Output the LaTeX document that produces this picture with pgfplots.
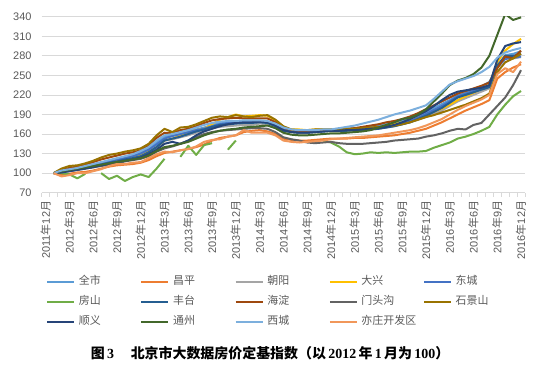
\documentclass[border=0pt]{standalone}
\usepackage{fontspec}
\setmainfont{Liberation Sans}
\newfontfamily\cjk{Noto Sans CJK SC}
\newfontfamily\capserif{Liberation Serif}
\usepackage{pgfplots}
\pgfplotsset{compat=1.18}
\usepackage{pgfplotstable}
\definecolor{cqs}{HTML}{5B9BD5}
\definecolor{ccp}{HTML}{ED7D31}
\definecolor{ccy}{HTML}{A5A5A5}
\definecolor{cdx}{HTML}{FFC000}
\definecolor{cdc}{HTML}{4472C4}
\definecolor{cfs}{HTML}{70AD47}
\definecolor{cft}{HTML}{255E91}
\definecolor{chd}{HTML}{9E480E}
\definecolor{cmtg}{HTML}{636363}
\definecolor{csjs}{HTML}{997300}
\definecolor{csy}{HTML}{264478}
\definecolor{ctz}{HTML}{43682B}
\definecolor{cxc}{HTML}{7CAFDD}
\definecolor{cyz}{HTML}{F1975A}
\definecolor{gridc}{HTML}{D9D9D9}
\definecolor{labc}{HTML}{595959}
\newcommand\ym[2]{#1{\cjk 年}#2{\cjk 月}}
\newcommand\legtxt[1]{\makebox[58bp][l]{\cjk #1}}
\pgfplotstableread{
i qs cp cy dx dc fs ft hd mtg sjs sy tz xc yz
1 100 100 100 100 100 100 100 100 100 100 100 100 100 100
2 103 97 102 103 102 100 102 105 102 107 101 103 104 95
3 105 99 104 105 104 98 104 108 103 111 103 105 106 97
4 107 101 106 107 106 92 106 110 105 112 105 107 108 100
5 110 102 108 109 109 99 108 113 107 115 107 109 111 100
6 113 104 111 112 112 nan 111 117 109 119 109 111 114 103
7 116 107 114 115 115 100 113 121 111 124 112 113 117 106
8 119 110 117 117 118 91 116 124 113 128 114 115 120 111
9 122 112 119 120 121 96 118 127 115 130 117 117 123 114
10 125 113 121 122 123 88 121 130 118 133 119 119 126 114
11 128 114 124 125 126 94 123 132 120 135 121 121 129 116
12 132 116 127 128 130 98 126 135 122 138 124 123 134 117
13 138 120 132 133 136 94 132 142 126 145 129 127 140 123
14 147 126 140 140 144 107 140 154 133 158 136 134 150 129
15 156 131 150 150 153 122 150 162 138 168 145 140 158 133
16 158 133 152 153 157 nan 153 161 141 163 148 142 160 132
17 161 135 155 158 160 125 156 166 145 170 145 145 163 135
18 164 137 158 163 163 142 160 168 150 171 150 148 166 137
19 167 140 162 166 166 128 164 172 155 175 158 153 170 141
20 170 144 165 168 168 143 167 177 160 180 164 158 174 148
21 174 150 169 175 172 146 171 181 163 185 168 162 177 151
22 177 154 171 182 175 nan 174 183 165 187 172 165 179 152
23 178 156 172 186 177 136 175 184 166 186 175 167 180 156
24 179 158 173 190 178 150 176 185 167 189 177 168 180 158
25 180 163 174 187 179 nan 177 184 168 187 178 170 181 166
26 180 165 174 188 179 nan 177 184 169 186 178 171 181 162
27 180 166 176 189 179 nan 178 184 169 188 179 172 181 162
28 179 164 175 188 178 nan 177 184 168 189 178 173 180 162
29 175 160 171 181 174 nan 172 178 163 182 173 169 176 158
30 168 153 165 171 167 nan 165 170 155 172 166 162 170 150
31 165 151 163 167 164 nan 163 166 152 167 163 159 167 148
32 164 150 162 167 163 nan 162 165 150 166 162 158 166 147
33 164 150 162 166 163 nan 162 165 147 166 162 158 166 148
34 165 151 163 167 164 nan 163 166 146 167 163 159 166 149
35 165 152 164 167 164 150 164 166 147 167 164 160 167 150
36 166 153 165 167 165 147 165 166 148 167 165 161 167 152
37 167 153 165 167 165 141 165 167 146 167 165 161 169 153
38 168 153 165 167 166 132 165 168 145 168 166 162 171 154
39 169 154 166 168 166 129 166 169 145 168 166 163 173 155
40 170 154 166 168 167 130 166 171 145 169 167 164 176 156
41 171 155 167 169 168 132 167 173 146 170 168 166 179 157
42 173 156 168 170 169 131 168 175 147 171 169 170 182 158
43 175 157 170 172 171 132 170 178 148 172 171 174 186 160
44 177 158 172 175 173 131 172 180 150 173 174 178 190 162
45 180 160 175 178 176 132 175 183 151 175 178 183 193 164
46 183 162 178 181 180 133 178 187 152 178 183 185 196 166
47 188 165 182 185 185 133 183 192 153 182 189 190 200 169
48 194 168 186 189 191 134 188 198 156 186 195 198 204 173
49 200 173 191 194 197 139 194 204 158 189 203 210 214 178
50 206 178 196 199 203 143 200 210 161 193 212 222 225 183
51 212 184 203 205 210 147 208 216 165 197 220 235 236 190
52 219 190 210 212 218 153 216 222 168 201 225 242 241 197
53 223 196 215 218 222 156 220 226 167 205 227 246 245 203
54 228 201 220 223 226 160 224 230 174 210 229 252 249 208
55 233 206 225 229 230 165 228 234 177 215 231 262 255 213
56 240 212 230 236 234 171 232 239 190 222 235 280 263 220
57 262 245 262 270 262 190 265 261 203 255 274 312 277 252
58 281 255 277 288 275 205 280 279 216 270 295 344 285 261
59 283 262 276 298 277 218 280 276 235 276 299 335 289 255
60 287 267 278 306 279 226 283 288 258 283 301 339 292 271
}\data
\begin{document}
\begin{tikzpicture}
\path[use as bounding box] (-41.7bp,-185.3bp) rectangle (512.3bp,192.7bp);
\begin{axis}[
  scale only axis, width=483.3bp, height=176bp,
  xmin=-0.5, xmax=60.5, ymin=70, ymax=340,
  ytick={70,100,...,340},
  xtick={0,3,...,60},
  xticklabels={\ym{2011}{12},\ym{2012}{3},\ym{2012}{6},\ym{2012}{9},\ym{2012}{12},
    \ym{2013}{3},\ym{2013}{6},\ym{2013}{9},\ym{2013}{12},
    \ym{2014}{3},\ym{2014}{6},\ym{2014}{9},\ym{2014}{12},
    \ym{2015}{3},\ym{2015}{6},\ym{2015}{9},\ym{2015}{12},
    \ym{2016}{3},\ym{2016}{6},\ym{2016}{9},\ym{2016}{12}},
  minor xtick={-0.5,0.5,...,60.5},
  axis x line*=bottom, axis y line*=left,
  x axis line style={draw=gridc, line width=0.75bp, -},
  y axis line style={draw=none},
  ymajorgrids, grid style={draw=gridc, line width=0.75bp},
  major tick length=0pt, minor tick length=4bp, tick align=outside,
  minor tick style={draw=gridc, line width=0.75bp},
  /pgf/number format/assume math mode=true,
  ticklabel style={text=labc, font=\fontsize{11}{13}\selectfont},
  yticklabel style={anchor=east, inner sep=0pt, xshift=-10bp},
  xticklabel style={yshift=-8bp, rotate=90, anchor=east, inner sep=0pt},
  unbounded coords=jump,
  every axis plot/.append style={line width=2bp, line join=round, mark=none},
  legend columns=5,
  legend cell align=left,
  legend image code/.code={\draw[#1, line width=2.2bp] (0bp,0bp) -- (27bp,0bp);},
  legend style={at={(0.0027,-0.46)}, anchor=north west, draw=none, fill=none,
    font=\fontsize{11}{13}\selectfont, text=labc,
    column sep=0pt, row sep=8bp,
    nodes={inner xsep=3.5bp, inner ysep=0pt, text height=9bp, text depth=3bp}},
]
\addplot[cqs] table[x=i,y=qs]{\data}; \addlegendentry{\legtxt{全市}}
\addplot[ccp] table[x=i,y=cp]{\data}; \addlegendentry{\legtxt{昌平}}
\addplot[ccy] table[x=i,y=cy]{\data}; \addlegendentry{\legtxt{朝阳}}
\addplot[cdx] table[x=i,y=dx]{\data}; \addlegendentry{\legtxt{大兴}}
\addplot[cdc] table[x=i,y=dc]{\data}; \addlegendentry{\legtxt{东城}}
\addplot[cfs] table[x=i,y=fs]{\data}; \addlegendentry{\legtxt{房山}}
\addplot[cft] table[x=i,y=ft]{\data}; \addlegendentry{\legtxt{丰台}}
\addplot[chd] table[x=i,y=hd]{\data}; \addlegendentry{\legtxt{海淀}}
\addplot[cmtg] table[x=i,y=mtg]{\data}; \addlegendentry{\legtxt{门头沟}}
\addplot[csjs] table[x=i,y=sjs]{\data}; \addlegendentry{\legtxt{石景山}}
\addplot[csy] table[x=i,y=sy]{\data}; \addlegendentry{\legtxt{顺义}}
\addplot[ctz] table[x=i,y=tz]{\data}; \addlegendentry{\legtxt{通州}}
\addplot[cxc] table[x=i,y=xc]{\data}; \addlegendentry{\legtxt{西城}}
\addplot[cyz] table[x=i,y=yz]{\data}; \addlegendentry{\legtxt{亦庄开发区}}
\end{axis}
\node[anchor=center, font=\fontsize{14}{16}\selectfont\bfseries] at (228.3bp,-160.6bp)
  {{\cjk 图}\,{\capserif 3}\hspace{1.2em}{\cjk 北京市大数据房价定基指数（以}\,{\capserif 2012}\,{\cjk 年}\,{\capserif 1}\,{\cjk 月为}\,{\capserif 100}{\cjk ）}};
\end{tikzpicture}
\end{document}
